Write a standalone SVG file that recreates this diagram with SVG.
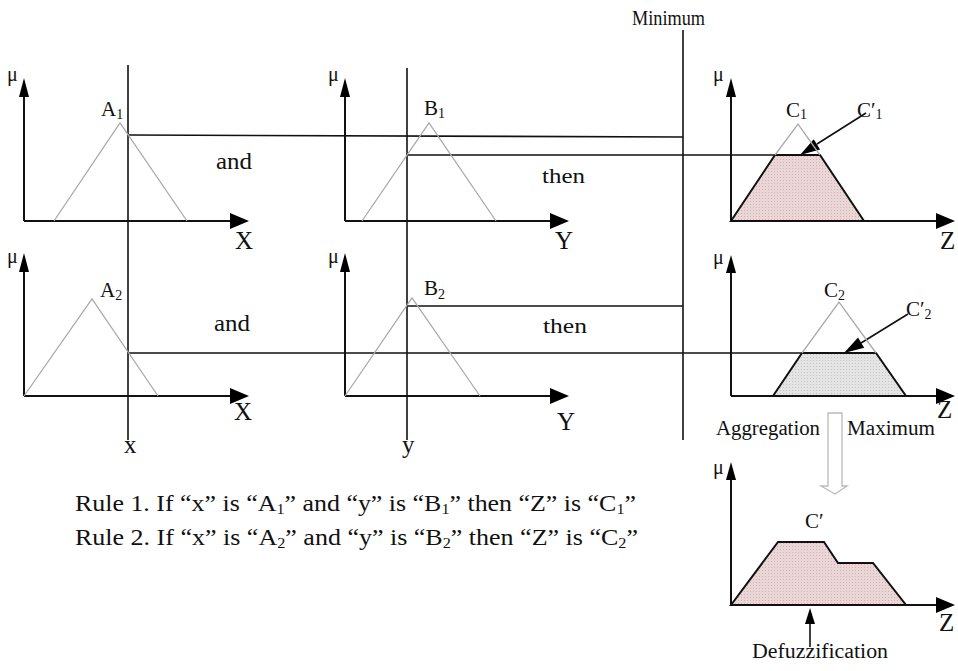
<svg xmlns="http://www.w3.org/2000/svg" width="958" height="671" viewBox="0 0 958 671">
<style>
.ax{stroke:#111;stroke-width:2;fill:none}
.ah{fill:#000}
.mf{stroke:#aaa;stroke-width:1.3;fill:none}
.cn{stroke:#111;stroke-width:1.6;fill:none}
.sh{stroke:#111;stroke-width:2}
text{font-family:"Liberation Serif","Times New Roman",serif;fill:#111}
.lb{font-size:21px}
.mu{font-size:20px}
.big{font-size:25px}
.sub{font-size:14px}
</style>
<defs>
<pattern id="pk" width="3" height="3" patternUnits="userSpaceOnUse">
<rect width="3" height="3" fill="#ead6d6"/>
<rect width="1" height="1" fill="#cfb3b3"/>
</pattern>
<pattern id="gy" width="3" height="3" patternUnits="userSpaceOnUse">
<rect width="3" height="3" fill="#e4e4e4"/>
<rect width="1" height="1" fill="#c4c4c4"/>
</pattern>
</defs>

<g id="connectors">
<line class="cn" x1="128" y1="65" x2="128" y2="440"/>
<line class="cn" x1="407" y1="68" x2="407" y2="440"/>
<line class="cn" x1="683" y1="30" x2="683" y2="440"/>
<line class="cn" x1="128" y1="135" x2="683" y2="137"/>
<line class="cn" x1="407" y1="155" x2="820" y2="155"/>
<line class="cn" x1="407" y1="306" x2="683" y2="306"/>
<line class="cn" x1="128" y1="353" x2="876" y2="353"/>
<line class="cn" x1="866" y1="113" x2="817" y2="144"/>
<polygon class="ah" points="800,155 820.1,149.4 813.7,139.2"/>
<line class="cn" x1="908" y1="314" x2="861" y2="343"/>
<polygon class="ah" points="844,353 864.2,347.7 858,337.5"/>
<line class="cn" x1="810" y1="647" x2="810" y2="623"/>
<polygon class="ah" points="810,608 805,624 815,624"/>
<path d="M828,413 H842 V486 H847 L835,494 L821,486 H828 Z" fill="#fff" stroke="#bbb" stroke-width="1.3"/>
</g>

<g id="labels">
<text x="632" y="25" font-size="22" textLength="73" lengthAdjust="spacingAndGlyphs">Minimum</text>
<text x="216" y="169" font-size="23" textLength="36" lengthAdjust="spacingAndGlyphs">and</text>
<text x="542" y="183" font-size="22" textLength="43" lengthAdjust="spacingAndGlyphs">then</text>
<text x="214" y="331" font-size="23" textLength="36" lengthAdjust="spacingAndGlyphs">and</text>
<text x="543" y="333" font-size="22" textLength="44" lengthAdjust="spacingAndGlyphs">then</text>
<text class="big" x="124" y="453">x</text>
<text class="big" x="402" y="453">y</text>
<text x="716" y="435" font-size="20" textLength="104" lengthAdjust="spacingAndGlyphs">Aggregation</text>
<text x="847" y="435" font-size="20" textLength="88" lengthAdjust="spacingAndGlyphs">Maximum</text>
<text x="752" y="658" font-size="20" textLength="136" lengthAdjust="spacingAndGlyphs">Defuzzification</text>
</g>

<g id="panel-A1">
<line class="ax" x1="24" y1="221" x2="24" y2="95"/>
<polygon class="ah" points="24,78 19,97 29,97"/>
<line class="ax" x1="24" y1="221" x2="232" y2="221"/>
<polygon class="ah" points="249,221 230,213 230,229"/>
<polyline class="mf" points="54,221 120,123 187,221"/>
<text class="mu" x="7" y="81">μ</text>
<text class="lb" x="101" y="116">A<tspan class="sub" dy="3">1</tspan></text>
<text class="big" x="235" y="249">X</text>
</g>

<g id="panel-B1">
<line class="ax" x1="345" y1="221" x2="345" y2="95"/>
<polygon class="ah" points="345,78 340,97 350,97"/>
<line class="ax" x1="345" y1="221" x2="552" y2="221"/>
<polygon class="ah" points="569,221 550,213 550,229"/>
<polyline class="mf" points="362,221 429,123 496,221"/>
<text class="mu" x="328" y="81">μ</text>
<text class="lb" x="424" y="115">B<tspan class="sub" dy="3">1</tspan></text>
<text class="big" x="555" y="249">Y</text>
</g>

<g id="panel-C1">
<polygon points="731,221 775,155 820,155 864,221" fill="url(#pk)" class="sh"/>
<polyline class="mf" points="775,155 798,124 820,155"/>
<line class="ax" x1="731" y1="221" x2="731" y2="95"/>
<polygon class="ah" points="731,78 726,97 736,97"/>
<line class="ax" x1="731" y1="221" x2="938" y2="221"/>
<polygon class="ah" points="955,221 936,213 936,229"/>
<text class="mu" x="713" y="81">μ</text>
<text class="lb" x="786" y="117">C<tspan class="sub" dy="2">1</tspan></text>
<text class="lb" x="857" y="117">C′<tspan class="sub" dy="2">1</tspan></text>
<text class="big" x="940" y="249">Z</text>
</g>

<g id="panel-A2">
<line class="ax" x1="24" y1="396" x2="24" y2="270"/>
<polygon class="ah" points="24,253 19,272 29,272"/>
<line class="ax" x1="24" y1="396" x2="232" y2="396"/>
<polygon class="ah" points="249,396 230,388 230,404"/>
<polyline class="mf" points="24,396 92,299 158,396"/>
<text class="mu" x="7" y="263">μ</text>
<text class="lb" x="100" y="297">A<tspan class="sub" dy="3">2</tspan></text>
<text class="big" x="234" y="420">X</text>
</g>

<g id="panel-B2">
<line class="ax" x1="345" y1="396" x2="345" y2="270"/>
<polygon class="ah" points="345,253 340,272 350,272"/>
<line class="ax" x1="345" y1="396" x2="552" y2="396"/>
<polygon class="ah" points="569,396 550,388 550,404"/>
<polyline class="mf" points="345,396 412,298 480,396"/>
<text class="mu" x="328" y="263">μ</text>
<text class="lb" x="424" y="295">B<tspan class="sub" dy="4">2</tspan></text>
<text class="big" x="557" y="430">Y</text>
</g>

<g id="panel-C2">
<polygon points="773,396 802,353 876,353 906,396" fill="url(#gy)" class="sh"/>
<polyline class="mf" points="802,353 839,302 876,353"/>
<line class="ax" x1="731" y1="396" x2="731" y2="270"/>
<polygon class="ah" points="731,255 726,273 736,273"/>
<line class="ax" x1="731" y1="396" x2="938" y2="396"/>
<polygon class="ah" points="955,396 936,388 936,404"/>
<text class="mu" x="713" y="264">μ</text>
<text class="lb" x="824" y="297">C<tspan class="sub" dy="3">2</tspan></text>
<text class="lb" x="906" y="316">C′<tspan class="sub" dy="3">2</tspan></text>
<text class="big" x="937" y="418">Z</text>
</g>

<g id="panel-C">
<polygon points="731,605 778,542 824,542 838,563 873,563 906,605" fill="url(#pk)" class="sh"/>
<line class="ax" x1="731" y1="605" x2="731" y2="478"/>
<polygon class="ah" points="731,462 726,480 736,480"/>
<line class="ax" x1="731" y1="605" x2="938" y2="605"/>
<polygon class="ah" points="955,605 936,597 936,613"/>
<text class="mu" x="713" y="474">μ</text>
<text class="lb" x="805" y="528">C′</text>
<text class="big" x="939" y="631">Z</text>
</g>

<g id="rules">
<text x="75" y="511" font-size="24" textLength="561" lengthAdjust="spacingAndGlyphs">Rule 1. If “x” is “A<tspan font-size="15" dy="3">1</tspan><tspan dy="-3">” and “y” is “B</tspan><tspan font-size="15" dy="3">1</tspan><tspan dy="-3">” then “Z” is “C</tspan><tspan font-size="15" dy="3">1</tspan><tspan dy="-3">”</tspan></text>
<text x="75" y="545" font-size="24" textLength="563" lengthAdjust="spacingAndGlyphs">Rule 2. If “x” is “A<tspan font-size="15" dy="3">2</tspan><tspan dy="-3">” and “y” is “B</tspan><tspan font-size="15" dy="3">2</tspan><tspan dy="-3">” then “Z” is “C</tspan><tspan font-size="15" dy="3">2</tspan><tspan dy="-3">”</tspan></text>
</g>
</svg>
